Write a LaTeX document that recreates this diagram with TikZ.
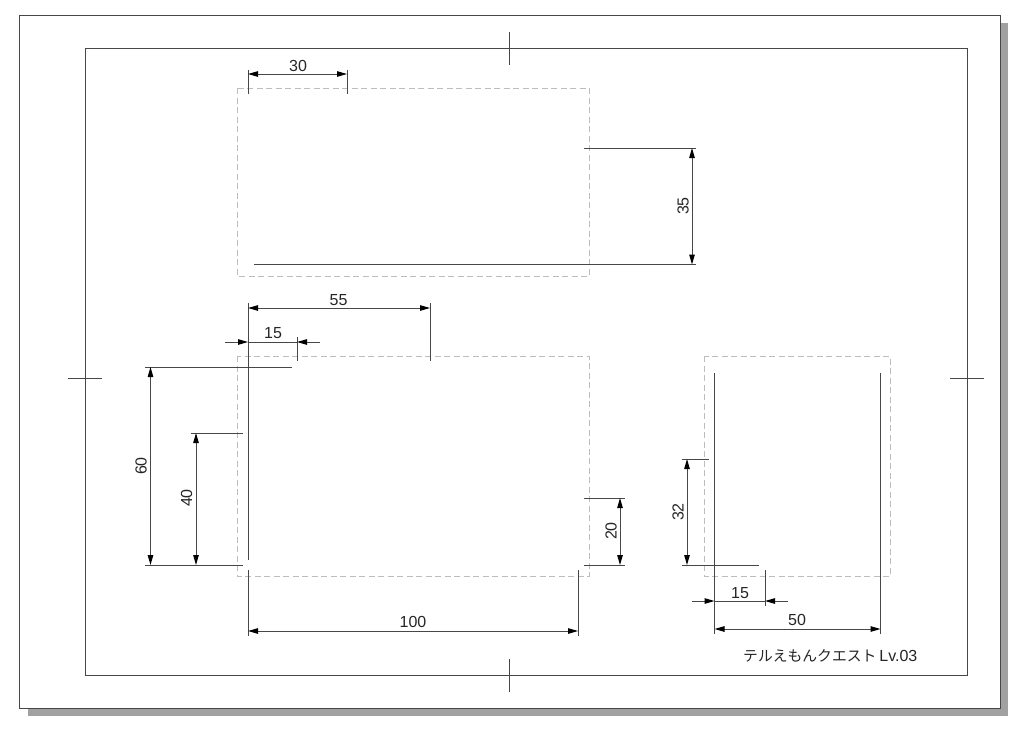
\documentclass[tikz,border=0pt]{standalone}
\usepackage{fontspec}
\setmainfont{Liberation Sans}
\newfontfamily\cjk{Noto Sans CJK JP}
\usetikzlibrary{arrows.meta}
\definecolor{ink}{gray}{0.28}
\definecolor{dashgray}{gray}{0.74}
\definecolor{shadowgray}{gray}{0.63}
\tikzset{
  x=1pt,y=-1pt,
  tip/.tip={Triangle[length=10pt,width=5.5pt,black]},
  frameline/.style={draw=ink,line width=1pt},
  ext/.style={draw=ink,line width=1pt},
  dashbox/.style={draw=dashgray,line width=0.9pt,dash pattern=on 6pt off 3.5pt},
  dimline/.style={draw=ink,line width=1pt,tip-tip},
  stubL/.style={draw=ink,line width=1pt,-tip},
  dimtext/.style={inner sep=0pt,font=\fontsize{16}{16}\selectfont,text=black!85},
}
\begin{document}
\begin{tikzpicture}
\useasboundingbox (0,0) rectangle (1024,734);
\fill[white] (0,0) rectangle (1024,734);
% sheet and shadow
\fill[shadowgray] (28,23) rectangle (1008,716);
\fill[white] (19,15) rectangle (1000,708);
\draw[frameline] (19,15) rectangle (1000,708);
\draw[frameline] (85,48) rectangle (967,675);
% centre marks
\draw[ext] (509,32) -- (509,65);
\draw[ext] (509,659) -- (509,692);
\draw[ext] (68,378) -- (102,378);
\draw[ext] (950,378) -- (984,378);
% dashed outlines
\draw[dashbox] (237,88) rectangle (589,276);
\draw[dashbox] (237,356) rectangle (589,576);
\draw[dashbox] (704,356) rectangle (890,576);
% top view
\draw[ext] (248,70) -- (248,94);
\draw[ext] (347,70) -- (347,94);
\draw[dimline] (248,74) -- (347,74);
\node[dimtext] (t30) at (298,65.5) {30};
\draw[ext] (584,148) -- (696,148);
\draw[ext] (254,264.5) -- (696,264.5);
\draw[dimline] (692,148) -- (692,264.5);
\node[dimtext,rotate=90] (t35) at (683,206) {35};
% front view
\draw[ext] (248,303) -- (248,560);
\draw[ext] (248,570) -- (248,636);
\draw[ext] (430,303) -- (430,361);
\draw[dimline] (248,308) -- (430,308);
\node[dimtext] (t55) at (338.5,300) {55};
\draw[ext] (297,337) -- (297,361);
\coordinate (a1) at (225,342); \coordinate (a2) at (248,342);
\coordinate (b1) at (320,342); \coordinate (b2) at (297,342);
\draw[stubL] (a1) -- (a2);
\draw[stubL] (b1) -- (b2);
\draw[ext] (a2) -- (b2);
\node[dimtext] (t15a) at (273,333.5) {15};
\draw[ext] (145,367) -- (292,367);
\draw[ext] (145,565) -- (243,565);
\draw[ext] (191,433) -- (243,433);
\draw[dimline] (150.5,367) -- (150.5,565);
\draw[dimline] (196,433) -- (196,565);
\node[dimtext,rotate=90] (t60) at (141,466) {60};
\node[dimtext,rotate=90] (t40) at (186.5,498) {40};
\draw[ext] (578,570) -- (578,636);
\draw[dimline] (248,631) -- (578,631);
\node[dimtext] (t100) at (413,622) {100};
\draw[ext] (584,498) -- (625,498);
\draw[ext] (584,565) -- (625,565);
\draw[dimline] (620,498) -- (620,565);
\node[dimtext,rotate=90] (t20) at (611,531) {20};
% side view
\draw[ext] (714.5,373) -- (714.5,634);
\draw[ext] (880.5,373) -- (880.5,634);
\draw[ext] (682,459) -- (709,459);
\draw[ext] (682,565) -- (759,565);
\draw[dimline] (687,459) -- (687,565);
\node[dimtext,rotate=90] (t32) at (678,512) {32};
\draw[ext] (765,570) -- (765,606);
\coordinate (c1) at (692,601); \coordinate (c2) at (714.5,601);
\coordinate (d1) at (788,601); \coordinate (d2) at (765,601);
\draw[stubL] (c1) -- (c2);
\draw[stubL] (d1) -- (d2);
\draw[ext] (c2) -- (d2);
\node[dimtext] (t15b) at (740,593) {15};
\draw[dimline] (714.5,629) -- (880.5,629);
\node[dimtext] (t50) at (797,620) {50};
\node[inner sep=0pt,anchor=west,text=black!85] (title) at (743,656)
  {\fontsize{14.8}{15}\selectfont{\cjk テルえもんクエスト}\hspace{3pt}\fontsize{16}{15}\selectfont Lv.03};
\end{tikzpicture}
\end{document}
